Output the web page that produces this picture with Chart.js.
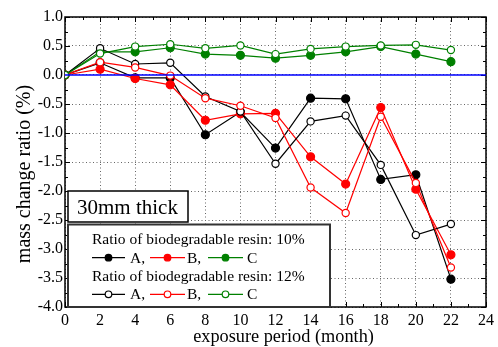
<!DOCTYPE html>
<html>
<head>
<meta charset="utf-8">
<script src="https://cdn.jsdelivr.net/npm/chart.js@4.4.0/dist/chart.umd.min.js"></script>
<style>
  body { margin: 0; background: #fff; }
  #wrap { width: 498px; height: 347px; }
</style>
</head>
<body>
<div id="wrap"><canvas id="grafico" width="498" height="347"></canvas></div>
<script>
// exposure period (month)
var meses = [0, 2, 4, 6, 8, 10, 12, 14, 16, 18, 20, 22];

// resin 10% (filled markers)
var a10 = [0, 0.21, -0.05, -0.05, -1.03, -0.64, -1.26, -0.40, -0.41, -1.80, -1.72, -3.52];
var b10 = [0, 0.10, -0.06, -0.17, -0.78, -0.67, -0.66, -1.41, -1.88, -0.56, -1.97, -3.10];
var c10 = [0, 0.40, 0.40, 0.47, 0.36, 0.34, 0.29, 0.34, 0.40, 0.49, 0.36, 0.23];

// resin 12% (open markers)
var a12 = [0, 0.46, 0.19, 0.21, -0.37, -0.63, -1.53, -0.80, -0.70, -1.55, -2.76, -2.57];
var b12 = [0, 0.22, 0.13, -0.01, -0.40, -0.53, -0.74, -1.94, -2.38, -0.72, -1.86, -3.32];
var c12 = [0, 0.37, 0.49, 0.53, 0.46, 0.51, 0.36, 0.45, 0.49, 0.51, 0.52, 0.43];

var zeroLinha = [0, 24];

var tituloX = 'exposure period (month)';
var tituloY = 'mass change ratio (%)';

function pares(valores) {
    return meses.map((m, i) => ({ x: m, y: valores[i] }));
}

function serie(label, valores, cor, cheio, ordem) {
    return {
        label: label,
        data: pares(valores),
        borderColor: cor,
        borderWidth: 1.2,
        backgroundColor: cor,
        pointBackgroundColor: cheio ? cor : '#fff',
        pointBorderColor: cor,
        pointBorderWidth: 1.2,
        pointRadius: cheio ? 4 : 3.6,
        order: ordem,
    };
}

var sA10 = serie('A 10%', a10, '#000000', true, 6);
var sB10 = serie('B 10%', b10, '#ff0000', true, 5);
var sC10 = serie('C 10%', c10, '#008000', true, 4);
var sA12 = serie('A 12%', a12, '#000000', false, 3);
var sB12 = serie('B 12%', b12, '#ff0000', false, 2);
var sC12 = serie('C 12%', c12, '#008000', false, 1);

const moldura = {
    id: 'moldura',
    beforeDatasetsDraw(chart) {
        const { ctx, chartArea: a, scales: { x, y } } = chart;
        ctx.save();
        ctx.strokeStyle = '#000';
        ctx.lineWidth = 1;
        ctx.beginPath();
        for (let m = 0; m <= 24; m++) {
            const px = Math.round(x.getPixelForValue(m)) + 0.5;
            const len = m % 2 === 0 ? 5 : 3;
            ctx.moveTo(px, a.bottom); ctx.lineTo(px, a.bottom - len);
            ctx.moveTo(px, a.top); ctx.lineTo(px, a.top + len);
        }
        for (let k = 0; k <= 20; k++) {
            const v = -4 + k * 0.25;
            const py = Math.round(y.getPixelForValue(v)) + 0.5;
            const len = k % 2 === 0 ? 5 : 3;
            ctx.moveTo(a.left, py); ctx.lineTo(a.left + len, py);
            ctx.moveTo(a.right, py); ctx.lineTo(a.right - len, py);
        }
        ctx.stroke();
        ctx.lineWidth = 1.5;
        ctx.strokeRect(a.left, a.top, a.right - a.left, a.bottom - a.top);
        ctx.restore();
    },
    afterDraw(chart) {
        const ctx = chart.ctx;
        ctx.save();

        // axis titles
        ctx.fillStyle = '#000';
        ctx.textAlign = 'center';
        ctx.textBaseline = 'middle';
        ctx.font = '18.3px "Liberation Serif", serif';
        ctx.fillText(tituloX, 283.5, 337);
        ctx.save();
        ctx.translate(25, 174);
        ctx.rotate(-Math.PI / 2);
        ctx.font = '20px "Liberation Serif", serif';
        ctx.fillText(tituloY, 0, 0);
        ctx.restore();
        ctx.textAlign = 'left';
        ctx.textBaseline = 'alphabetic';

        // thickness label
        ctx.fillStyle = '#fff';
        ctx.fillRect(68, 191, 120, 31);
        ctx.strokeStyle = '#000';
        ctx.lineWidth = 1.5;
        ctx.strokeRect(68, 191, 120, 31);
        ctx.fillStyle = '#000';
        ctx.font = '21px "Liberation Serif", serif';
        ctx.fillText('30mm thick', 77, 213.5);

        // legend box
        ctx.fillStyle = '#fff';
        ctx.fillRect(68, 224.5, 262, 82.5);
        ctx.strokeStyle = '#333';
        ctx.lineWidth = 2;
        ctx.strokeRect(68, 224.5, 262, 82.5);

        ctx.fillStyle = '#000';
        ctx.font = '15.5px "Liberation Serif", serif';
        ctx.fillText('Ratio of biodegradable resin: 10%', 92, 244);
        ctx.fillText('Ratio of biodegradable resin: 12%', 92, 281);

        const linhas = [
            { y: 257.7, base: 262.5, sets: [sA10, sB10, sC10] },
            { y: 294.3, base: 299.3, sets: [sA12, sB12, sC12] },
        ];
        const colunas = [
            { x0: 92, x1: 125, txt: 'A,', tx: 130 },
            { x0: 150, x1: 185, txt: 'B,', tx: 187 },
            { x0: 208, x1: 243, txt: 'C', tx: 247 },
        ];
        linhas.forEach((l) => {
            l.sets.forEach((d, i) => {
                const c = colunas[i];
                ctx.strokeStyle = d.borderColor;
                ctx.lineWidth = 1.2;
                ctx.beginPath();
                ctx.moveTo(c.x0, l.y); ctx.lineTo(c.x1, l.y);
                ctx.stroke();
                ctx.beginPath();
                ctx.arc((c.x0 + c.x1) / 2, l.y, 3.3, 0, Math.PI * 2);
                ctx.fillStyle = d.pointBackgroundColor;
                ctx.fill();
                ctx.stroke();
                ctx.fillStyle = '#000';
                ctx.fillText(c.txt, c.tx, l.base);
            });
        });
        ctx.restore();
    }
};

Chart.defaults.font.family = '"Liberation Serif", serif';
Chart.defaults.color = '#000';

const ctx = document.getElementById('grafico');
const grafico = new Chart(ctx, {
    type: 'line',
    data: {
        datasets: [
            {
                label: 'zero',
                data: zeroLinha.map((m) => ({ x: m, y: 0 })),
                borderColor: '#0000ff',
                borderWidth: 1.6,
                pointRadius: 0,
                order: 0,
            },
            sA10, sB10, sC10, sA12, sB12, sC12,
        ],
    },
    options: {
        responsive: false,
        animation: false,
        layout: { padding: { left: 0, right: 10, top: 17, bottom: 0 } },
        plugins: {
            legend: { display: false },
            tooltip: { enabled: false },
        },
        scales: {
            x: {
                type: 'linear',
                min: 0,
                max: 24,
                ticks: { stepSize: 2, padding: 4, font: { size: 16 }, maxRotation: 0 },
                grid: { color: '#666', lineWidth: 1, drawTicks: false },
                border: { display: false, dash: [1, 2.5] },
                afterFit: (s) => { s.height = 40; },
            },
            y: {
                min: -4,
                max: 1,
                ticks: {
                    stepSize: 0.5,
                    padding: 2,
                    font: { size: 16 },
                    callback: (v) => v.toFixed(1),
                },
                grid: { color: '#666', lineWidth: 1, drawTicks: false },
                border: { display: false, dash: [1, 2.5] },
                afterFit: (s) => { s.width = 65; },
            },
        },
    },
    plugins: [moldura],
});
</script>
</body>
</html>
